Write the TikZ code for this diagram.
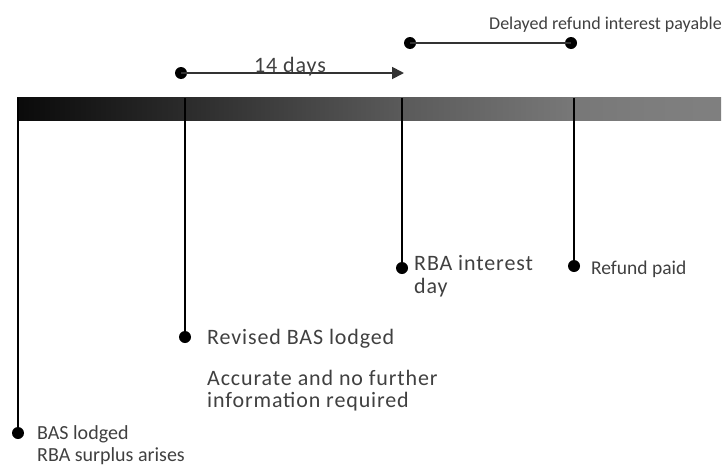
\documentclass[tikz,border=0pt]{standalone}
\usepackage{fontspec}
\setmainfont{Carlito}
\newfontfamily\widefont{Carlito}[LetterSpace=4]
\usetikzlibrary{arrows.meta}
\definecolor{txt}{HTML}{404040}
\pgfdeclarehorizontalshading{barsh}{100bp}{rgb(0bp)=(0.04,0.04,0.04); rgb(25bp)=(0.04,0.04,0.04); rgb(36.6bp)=(0.165,0.165,0.165); rgb(52.2bp)=(0.353,0.353,0.353); rgb(64.3bp)=(0.467,0.467,0.467); rgb(69.9bp)=(0.49,0.49,0.49); rgb(75bp)=(0.5,0.5,0.5); rgb(100bp)=(0.5,0.5,0.5)}
\begin{document}
\begin{tikzpicture}[x=1pt,y=-1pt,
  dotn/.style={circle,fill=black,inner sep=0pt,minimum size=12pt},
  lbl/.style={anchor=base west,inner sep=0pt,text=txt,font=\fontsize{19.5}{22}\selectfont},
  wlbl/.style={anchor=base west,inner sep=0pt,text=txt,font=\widefont\fontsize{22}{24}\selectfont},
  vline/.style={draw=black,line width=1.8pt},
  hline/.style={draw=black!80,line width=1.8pt}]
\useasboundingbox (0,0) rectangle (726,466);
\shade[shading=barsh] (17,97) rectangle (721,120);
% vertical markers
\node[dotn] (d1) at (18,433) {};
\node[dotn] (d2) at (185,337) {};
\node[dotn] (d3) at (402,268) {};
\node[dotn] (d4) at (574,266) {};
\coordinate (t1) at (18,98);
\coordinate (t2) at (185,98);
\coordinate (t3) at (402,98);
\coordinate (t4) at (574,98);
\draw[vline] (t1) -- (d1.center);
\draw[vline] (t2) -- (d2.center);
\draw[vline] (t3) -- (d3.center);
\draw[vline] (t4) -- (d4.center);
% 14 days
\node[dotn] (a1) at (181,73) {};
\coordinate (a2) at (404,73);
\draw[hline,-{Triangle[length=12pt,width=12pt]}] (a1.center) -- (a2);
\node[wlbl] (l14) at (254,72) {14 days};
% delayed refund
\node[dotn] (b1) at (410,43) {};
\node[dotn] (b2) at (571,43) {};
\draw[hline] (b1.center) -- (b2.center);
\node[lbl,font=\fontsize{18}{22}\selectfont] (ldel) at (489,29) {Delayed refund interest payable};
% labels
\node[lbl,font=\fontsize{20}{22}\selectfont] (lbas) at (37,439) {BAS lodged};
\node[lbl,font=\fontsize{20}{22}\selectfont] (lsur) at (37,461) {RBA surplus arises};
\node[wlbl] (lrev) at (207,344) {Revised BAS lodged};
\node[wlbl] (lacc) at (207,385) {Accurate and no further};
\node[wlbl] (linf) at (207,407) {information required};
\node[wlbl] (lrba) at (414,270) {RBA interest};
\node[wlbl] (lday) at (414,293) {day};
\node[lbl] (lref) at (591,274) {Refund paid};
\end{tikzpicture}
\end{document}
